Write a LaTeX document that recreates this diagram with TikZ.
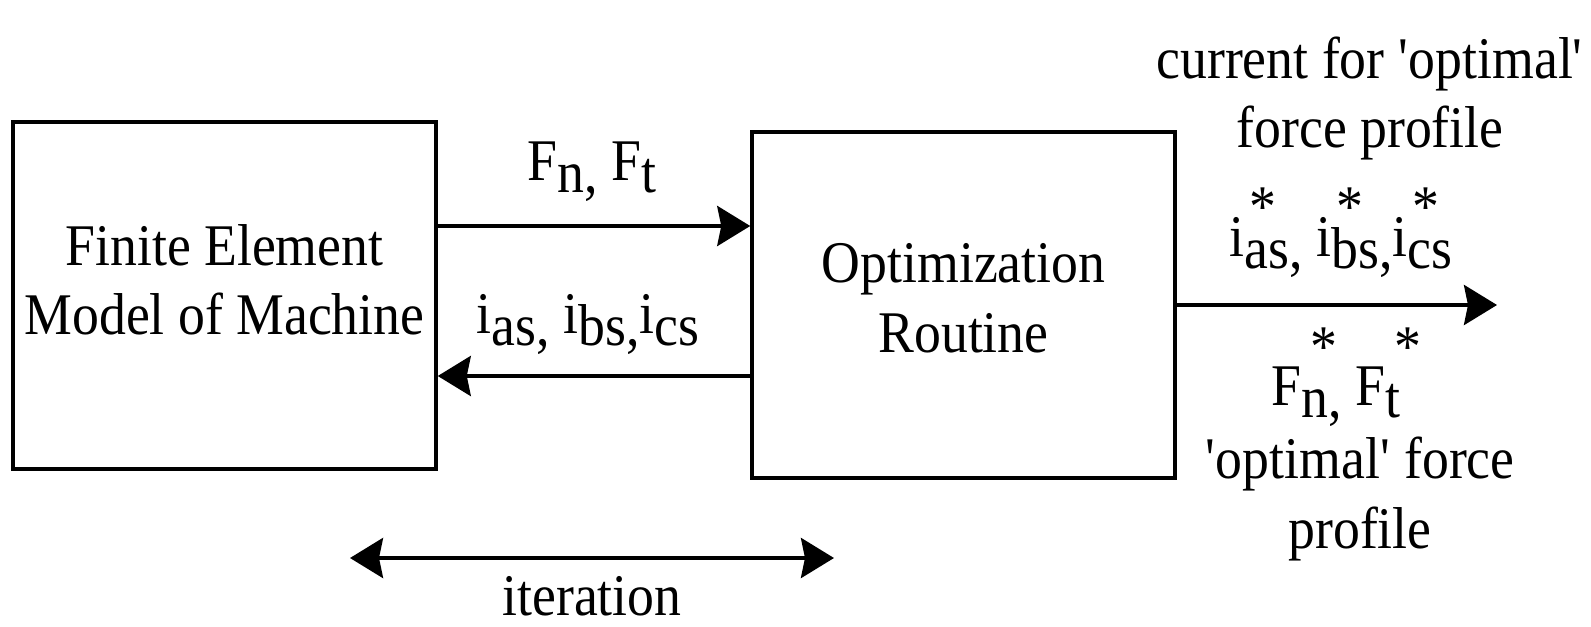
\documentclass[tikz,border=0pt]{standalone}
\usepackage{fontspec}
\setmainfont{Liberation Serif}[FakeStretch=0.91]
\usetikzlibrary{arrows.meta,positioning}
\newcommand{\lowr}[1]{\raisebox{-0.22em}{#1}}
\newcommand{\istar}[1]{i\rlap{\kern0.08em\raisebox{0.5em}{*}}\lowr{#1}}
\newcommand{\fstar}[1]{F\rlap{\kern0.15em\raisebox{0.66em}{*}}\lowr{#1}}
\newcommand{\sq}{\textquotesingle}

\begin{document}
\begin{tikzpicture}[font=\fontsize{33.6pt}{39.3pt}\selectfont,
  >={Stealth[length=0.66cm,width=0.8cm,inset=0.08cm]},
  box/.style={draw=black,line width=2pt,align=center,inner sep=0pt,
              minimum width=8.46cm,text depth=0pt},
  flow/.style={->,line width=2.2pt},
  lbl/.style={anchor=base,inner sep=0pt,align=center}]
\useasboundingbox (0,0) rectangle (31.82,12.52);
\node[box,minimum height=6.94cm,text height=1.56cm] (fem) at (4.49,6.61)
  {Finite Element\\Model of Machine};
\node[box,minimum height=6.92cm,text height=1.88cm] (opt) at (19.27,6.42)
  {Optimization\\Routine};
\coordinate (out) at (29.94,6.42);
\coordinate (itl) at (7.0,1.36);
\coordinate (itr) at (16.68,1.36);
\draw[flow] ([yshift=1.39cm]fem.east) -- ([yshift=1.39cm]fem.east -| opt.west);
\draw[flow] ([yshift=-1.61cm]fem.east -| opt.west) -- ([yshift=-1.61cm]fem.east);
\draw[flow] (opt.east) -- (out);
\draw[flow,<->] (itl) -- (itr);
% labels
\node[lbl] (fnft) at (11.84,8.92) {F\lowr{n,} F\lowr{t}};
\node[lbl] (iabc) at (11.76,5.86) {i\lowr{as,} i\lowr{bs,}i\lowr{cs}};
\node[lbl] (iter) at (11.84,0.22) {iteration};
\node[lbl] (cur) at (27.4,9.56) {current for \sq optimal\sq\\force profile};
\node[lbl] (istr) at (26.82,7.4) {\istar{as,} \istar{bs,}\istar{cs}};
\node[lbl] (fstr) at (26.72,4.42) {\fstar{n,} \fstar{t}};
\node[lbl] (frc) at (27.2,1.56) {\sq optimal\sq{} force\\profile};
\end{tikzpicture}
\end{document}
